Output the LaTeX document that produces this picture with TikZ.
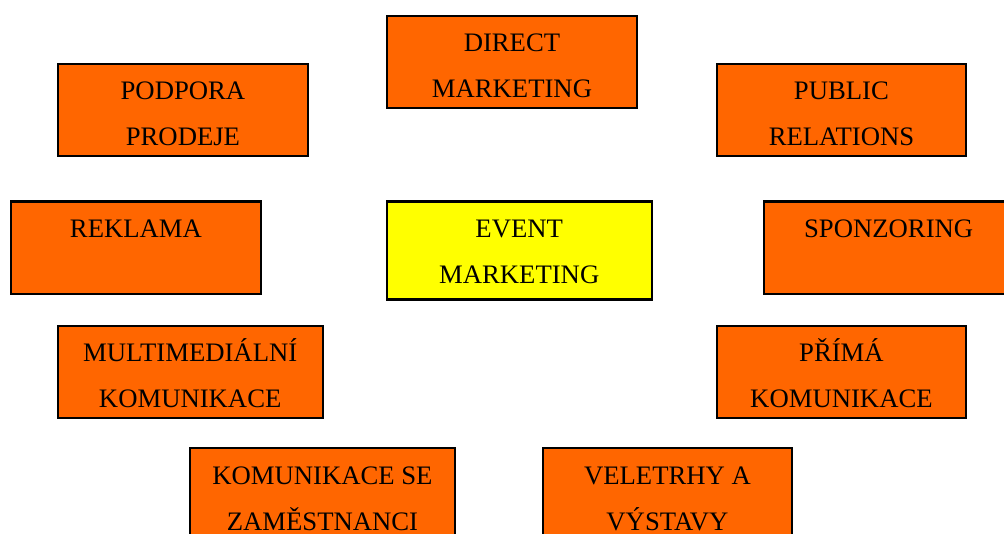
\documentclass[tikz,border=0pt]{standalone}
\usepackage{fontspec}
\setmainfont{Liberation Serif}
\usetikzlibrary{calc}

\definecolor{tileorange}{HTML}{FF6600}
\definecolor{tileyellow}{HTML}{FFFF00}

\tikzset{
  tile/.style={draw=black, line width=2.4pt, rectangle, inner sep=0pt,
               minimum height=92pt, anchor=north west},
  lbl/.style={inner sep=0pt, anchor=base, text=black,
              font=\fontsize{26.7}{31}\selectfont}
}

% \tile{name}{left}{top}{width}{height}{fill}{line 1}{line 2}
\newcommand\tile[8]{%
  \node[tile, fill=#6, minimum width=#4pt, minimum height=#5pt] (#1) at (#2,#3) {};
  \node[lbl] (#1-a) at ($(#1.north)+(0,37)$) {#7};
  \node[lbl] (#1-b) at ($(#1.north)+(0,83)$) {#8};
}

\begin{document}
\begin{tikzpicture}[x=1pt, y=-1pt]
  \useasboundingbox (0,0) rectangle (1004,534);

  \tile{direct}{385.5}{15}{250.5}{92}{tileorange}{DIRECT}{MARKETING}
  \tile{podpora}{56.5}{63}{250.5}{92}{tileorange}{PODPORA}{PRODEJE}
  \tile{public}{715.5}{63}{249.5}{92}{tileorange}{PUBLIC}{RELATIONS}
  \tile{reklama}{9.5}{200.5}{250.5}{92.5}{tileorange}{REKLAMA}{}
  \tile{event}{385.5}{200.5}{265}{98}{tileyellow}{EVENT}{MARKETING}
  \tile{sponzor}{762.5}{200.5}{250}{92.5}{tileorange}{SPONZORING}{}
  \tile{multi}{56.5}{325}{265}{92}{tileorange}{MULTIMEDIÁLNÍ}{KOMUNIKACE}
  \tile{prima}{715.5}{325}{249.5}{92}{tileorange}{PŘÍMÁ}{KOMUNIKACE}
  \tile{zames}{188.5}{447}{265.5}{92}{tileorange}{KOMUNIKACE SE}{ZAMĚSTNANCI}
  \tile{vele}{541.5}{447}{249.5}{92}{tileorange}{VELETRHY A}{VÝSTAVY}
\end{tikzpicture}
\end{document}
